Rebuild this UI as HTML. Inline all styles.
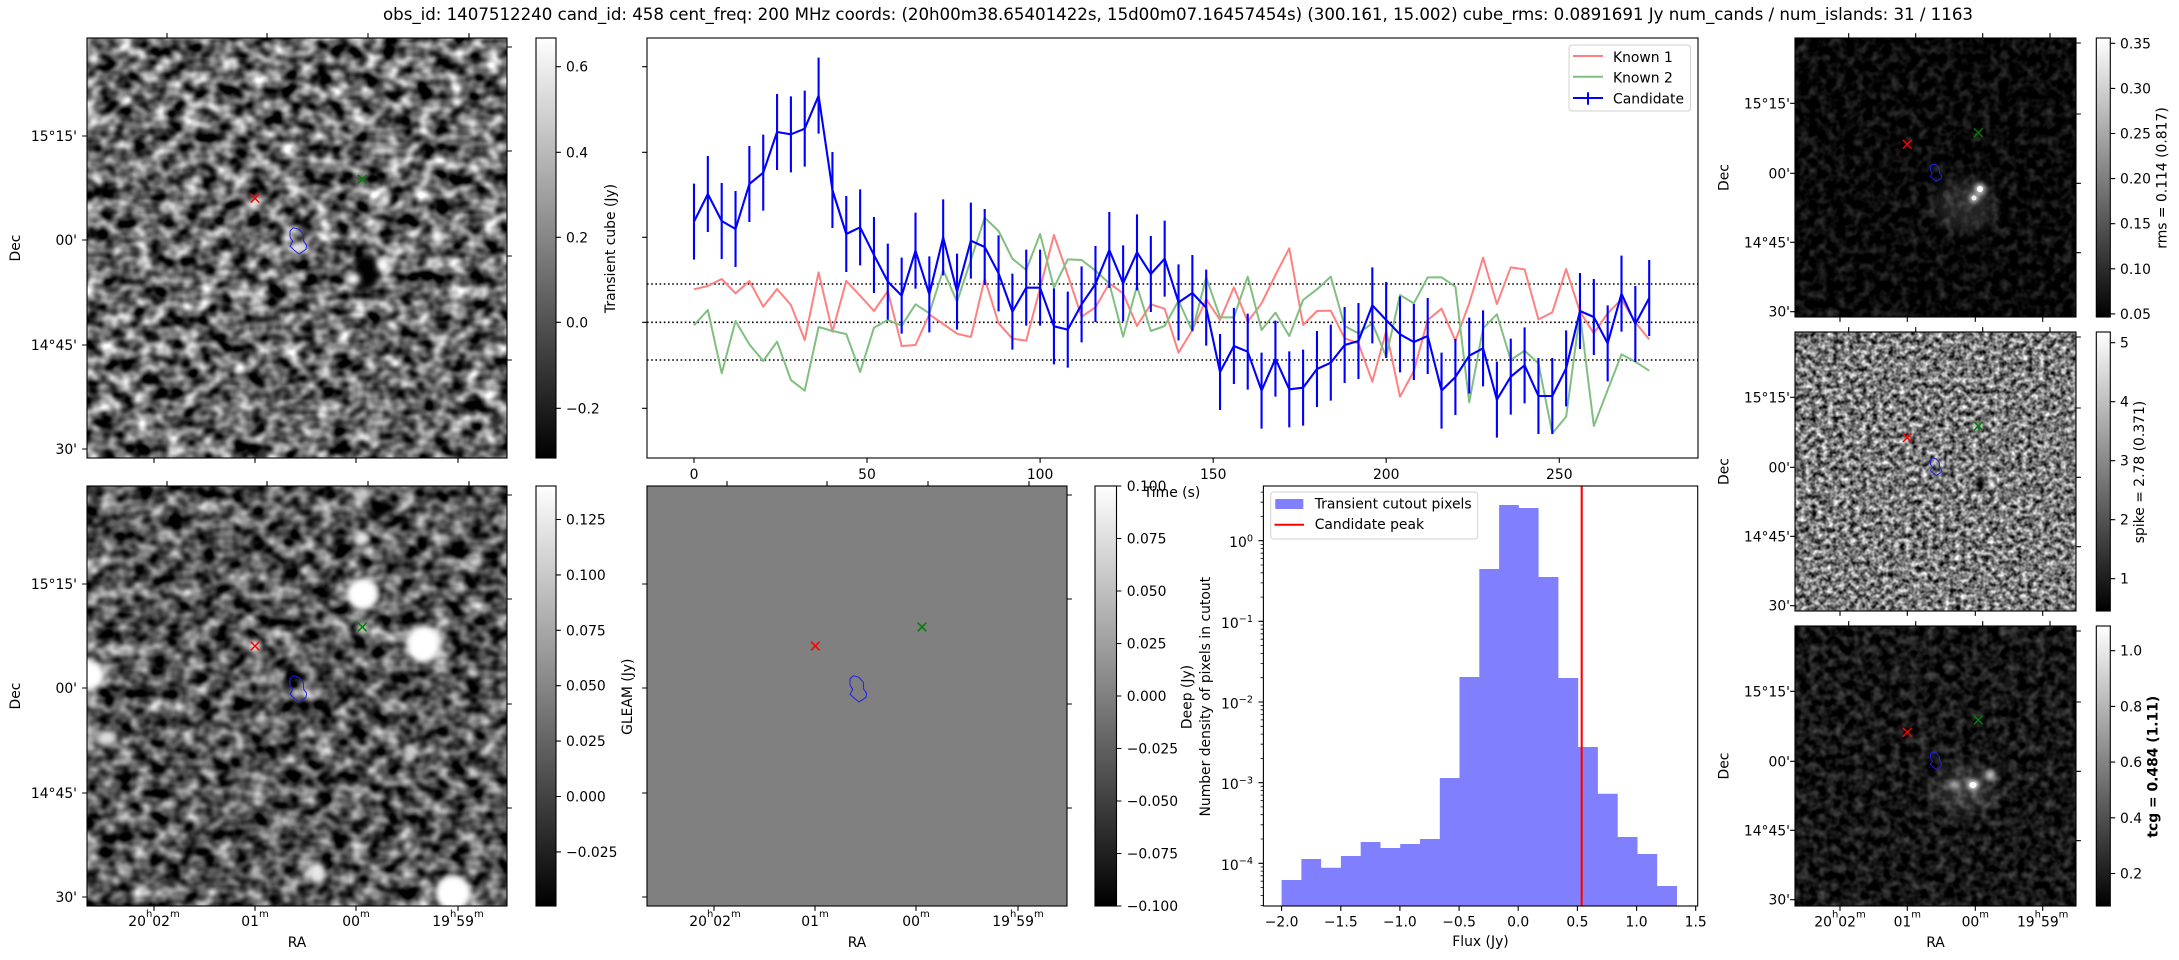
<!DOCTYPE html>
<html><head><meta charset="utf-8"><style>
html,body{margin:0;padding:0;background:#fff}
svg{display:block}
text{font-family:"DejaVu Sans","Liberation Sans",sans-serif;font-size:13.9px;fill:#000}
</style></head><body>
<svg width="2179" height="960" viewBox="0 0 2179 960" xmlns="http://www.w3.org/2000/svg">
<defs>
<linearGradient id="cb" x1="0" y1="1" x2="0" y2="0"><stop offset="0" stop-color="#000"/><stop offset="1" stop-color="#fff"/></linearGradient>
<filter id="fTL" x="87" y="38" width="420" height="420" filterUnits="userSpaceOnUse" color-interpolation-filters="sRGB">
<feTurbulence type="fractalNoise" baseFrequency="0.06 0.07" numOctaves="2" seed="7"/>
<feColorMatrix type="matrix" values="1.8 0 0 0 -0.5 1.8 0 0 0 -0.5 1.8 0 0 0 -0.5 0 0 0 0 1"/>
</filter>
<filter id="fBL" x="87" y="486" width="420" height="420" filterUnits="userSpaceOnUse" color-interpolation-filters="sRGB">
<feTurbulence type="fractalNoise" baseFrequency="0.06 0.07" numOctaves="2" seed="21"/>
<feColorMatrix type="matrix" values="1.5 0 0 0 -0.42 1.5 0 0 0 -0.42 1.5 0 0 0 -0.42 0 0 0 0 1"/>
</filter>
<filter id="fR1" x="1795" y="38" width="281" height="279" filterUnits="userSpaceOnUse" color-interpolation-filters="sRGB">
<feTurbulence type="fractalNoise" baseFrequency="0.11" numOctaves="2" seed="4"/>
<feColorMatrix type="matrix" values="0.45 0 0 0 -0.19 0.45 0 0 0 -0.19 0.45 0 0 0 -0.19 0 0 0 0 1"/>
</filter>
<filter id="fR2" x="1795" y="332" width="281" height="279" filterUnits="userSpaceOnUse" color-interpolation-filters="sRGB">
<feTurbulence type="fractalNoise" baseFrequency="0.18" numOctaves="2" seed="11"/>
<feColorMatrix type="matrix" values="1.5 0 0 0 -0.27 1.5 0 0 0 -0.27 1.5 0 0 0 -0.27 0 0 0 0 1"/>
</filter>
<filter id="fR3" x="1795" y="626" width="281" height="280" filterUnits="userSpaceOnUse" color-interpolation-filters="sRGB">
<feTurbulence type="fractalNoise" baseFrequency="0.11" numOctaves="2" seed="15"/>
<feColorMatrix type="matrix" values="0.55 0 0 0 -0.19 0.55 0 0 0 -0.19 0.55 0 0 0 -0.19 0 0 0 0 1"/>
</filter>
<filter id="bl" x="-100%" y="-100%" width="300%" height="300%"><feGaussianBlur stdDeviation="3"/></filter>
<filter id="bl6" x="-100%" y="-100%" width="300%" height="300%"><feGaussianBlur stdDeviation="7"/></filter>
<clipPath id="cTL"><rect x="87" y="38" width="420" height="420"/></clipPath>
<clipPath id="cBL"><rect x="87" y="486" width="420" height="420"/></clipPath>
<clipPath id="cR1"><rect x="1795" y="38" width="281" height="279"/></clipPath>
<clipPath id="cR2"><rect x="1795" y="332" width="281" height="279"/></clipPath>
<clipPath id="cR3"><rect x="1795" y="626" width="281" height="280"/></clipPath>
<path id="cont" d="M293.3 227.7L299 229.3L303.3 234.3L303.7 241.3L306.7 245.3L306 249.3L299 254L294.3 250.3L290 246.3L292.7 241.3L290 237L290 231Z" fill="none" stroke="#2020e0" stroke-width="1"/>
<path id="contR" d="M293.3 227.7L299 229.3L303.3 234.3L303.7 241.3L306.7 245.3L306 249.3L299 254L294.3 250.3L290 246.3L292.7 241.3L290 237L290 231Z" fill="none" stroke="#2020e0" stroke-width="1.5"/>
</defs>

<rect x="0" y="0" width="2179" height="960" fill="#fff"/>

<!-- Title -->
<text x="1178" y="20" text-anchor="middle" style="font-size:16.67px" textLength="1590" lengthAdjust="spacing">obs_id: 1407512240 cand_id: 458 cent_freq: 200 MHz coords: (20h00m38.65401422s, 15d00m07.16457454s) (300.161, 15.002) cube_rms: 0.0891691 Jy num_cands / num_islands: 31 / 1163</text>

<!-- ============ TOP-LEFT IMAGE ============ -->
<rect x="87" y="38" width="420" height="420" filter="url(#fTL)"/>
<g clip-path="url(#cTL)">
<ellipse cx="366" cy="272" rx="13" ry="17" fill="#000" filter="url(#bl)"/>
<ellipse cx="353" cy="279" rx="7" ry="6" fill="#fff" filter="url(#bl)"/>
<ellipse cx="383" cy="265" rx="6" ry="8" fill="#fff" filter="url(#bl)"/>
<ellipse cx="437" cy="236" rx="6" ry="7" fill="#fff" filter="url(#bl)"/>
<ellipse cx="300" cy="248" rx="6" ry="5" fill="#ddd" filter="url(#bl)"/>
<ellipse cx="385" cy="200" rx="5" ry="7" fill="#eee" filter="url(#bl)"/>
</g>
<use href="#cont"/>
<g stroke-width="1.5" fill="none">
<path d="M250.7 194L259.3 202.6M259.3 194L250.7 202.6" stroke="#f00"/>
<path d="M358 175L366.6 183.6M366.6 175L358 183.6" stroke="#008000"/>
</g>
<rect x="87" y="38" width="420" height="420" fill="none" stroke="#000" stroke-width="1.1"/>
<g id="tkL" stroke="#000" stroke-width="1.1">
<path d="M167 38v-4.9M267 38v-4.9M368 38v-4.9M469 38v-4.9M154 458v4.9M255 458v4.9M356 458v4.9M458 458v4.9M87 136h-4.9M87 240h-4.9M87 345h-4.9M87 449h-4.9M507 47h4.9M507 151h4.9M507 256h4.9M507 360h4.9"/>
</g>
<g text-anchor="end">
<text x="77" y="141">15°15'</text><text x="77" y="245">00'</text><text x="77" y="350">14°45'</text><text x="77" y="454">30'</text>
</g>
<text transform="translate(20.1,248) rotate(-90)" text-anchor="middle">Dec</text>

<!-- colorbar TL -->
<rect x="536" y="38" width="20" height="420" fill="url(#cb)" stroke="#000" stroke-width="1.1"/>
<path d="M556 66.7h4.9M556 152.3h4.9M556 237.3h4.9M556 322.3h4.9M556 408.3h4.9" stroke="#000" stroke-width="1.1"/>
<g><text x="566" y="71.7">0.6</text><text x="566" y="157.3">0.4</text><text x="566" y="242.3">0.2</text><text x="566" y="327.3">0.0</text><text x="566" y="413.3">−0.2</text></g>
<text transform="translate(615,248.5) rotate(-90)" text-anchor="middle">Transient cube (Jy)</text>

<!-- ============ LIGHT CURVE ============ -->
<rect x="647" y="38" width="1051" height="420" fill="none" stroke="#000" stroke-width="1.1"/>
<path d="M647 66.7h-4.9M647 152.3h-4.9M647 237.3h-4.9M647 322.3h-4.9M647 408.3h-4.9M694 458v4.9M867 458v4.9M1040.1 458v4.9M1213.2 458v4.9M1386.2 458v4.9M1559.3 458v4.9" stroke="#000" stroke-width="1.1"/>
<g text-anchor="middle"><text x="694" y="479">0</text><text x="867" y="479">50</text><text x="1040.1" y="479">100</text><text x="1213.2" y="479">150</text><text x="1386.2" y="479">200</text><text x="1559.3" y="479">250</text></g>
<text x="1172" y="497" text-anchor="middle">Time (s)</text>
<g stroke="#000" stroke-width="1.6" stroke-dasharray="1.6 2.6">
<path d="M647 284H1698M647 322.3H1698M647 360H1698"/>
</g>
<g transform="translate(640,30) scale(0.333333)" fill="none" stroke-linejoin="round">
<polyline vector-effect="non-scaling-stroke" stroke="#ff8080" stroke-width="2" points="162,778 203.5,768 245.1,747 286.6,790 328.1,753 369.7,830 411.2,777 452.7,825 494.2,930 535.8,727 577.3,905 618.8,753 660.4,797 701.9,843 743.4,783 785,948 826.5,945 868,853 909.5,882 951.1,911 992.6,921 1034.1,746 1075.7,880 1117.2,926 1158.7,932 1200.3,774 1241.8,615 1283.3,735 1324.8,860 1366.4,832 1407.9,760 1449.4,790 1491,888 1532.5,823 1574,836 1615.6,968 1657.1,900 1698.6,808 1740.1,870 1781.7,772 1823.2,875 1864.7,820 1906.3,735 1947.8,655 1989.3,885 2030.9,843 2072.4,842 2113.9,925 2155.4,940 2197,1055 2238.5,903 2280,1100 2321.6,1023 2363.1,870 2404.6,836 2446.2,932 2487.7,820 2529.2,683 2570.7,822 2612.3,712 2653.8,718 2695.3,868 2736.9,847 2778.4,717 2819.9,845 2861.5,910 2903,850 2944.5,808 2986,877 3027.6,928"/>
<polyline vector-effect="non-scaling-stroke" stroke="#80bf80" stroke-width="2" points="162,886 203.5,840 245.1,1030 286.6,873 328.1,943 369.7,993 411.2,935 452.7,1050 494.2,1082 535.8,891 577.3,903 618.8,912 660.4,1026 701.9,893 743.4,870 785,887 826.5,823 868,850 909.5,720 951.1,815 992.6,690 1034.1,563 1075.7,603 1117.2,686 1158.7,720 1200.3,612 1241.8,773 1283.3,688 1324.8,690 1366.4,722 1407.9,760 1449.4,920 1491,768 1532.5,903 1574,888 1615.6,812 1657.1,903 1698.6,742 1740.1,862 1781.7,862 1823.2,740 1864.7,900 1906.3,848 1947.8,918 1989.3,810 2030.9,778 2072.4,740 2113.9,888 2155.4,910 2197,880 2238.5,980 2280,795 2321.6,820 2363.1,742 2404.6,742 2446.2,770 2487.7,1117 2529.2,895 2570.7,853 2612.3,990 2653.8,962 2695.3,1000 2736.9,1210 2778.4,1160 2819.9,850 2861.5,1188 2903,1080 2944.5,973 2986,995 3027.6,1022"/>
<polyline vector-effect="non-scaling-stroke" stroke="#0000ff" stroke-width="2.1" points="162,575 203.5,492 245.1,573 286.6,597 328.1,462 369.7,428 411.2,306 452.7,313 494.2,296 535.8,197 577.3,480 618.8,612 660.4,592 701.9,675 743.4,755 785,797 826.5,662 868,793 909.5,622 951.1,785 992.6,632 1034.1,651 1075.7,730 1117.2,845 1158.7,773 1200.3,773 1241.8,889 1283.3,899 1324.8,823 1366.4,762 1407.9,660 1449.4,760 1491,667 1532.5,732 1574,686 1615.6,817 1657.1,789 1698.6,833 1740.1,1026 1781.7,948 1823.2,965 1864.7,1082 1906.3,986 1947.8,1078 1989.3,1073 2030.9,1017 2072.4,998 2113.9,945 2155.4,933 2197,826 2238.5,870 2280,913 2321.6,936 2363.1,918 2404.6,1082 2446.2,1041 2487.7,977 2529.2,955 2570.7,1109 2612.3,1040 2653.8,1006 2695.3,1098 2736.9,1098 2778.4,1015 2819.9,843 2861.5,861 2903,940 2944.5,791 2986,882 3027.6,804"/>
<path vector-effect="non-scaling-stroke" stroke="#0000ff" stroke-width="2.1" d="M162 461V689M203.5 378V606M245.1 459V687M286.6 483V711M328.1 348V576M369.7 314V542M411.2 192V420M452.7 199V427M494.2 182V410M535.8 83V311M577.3 366V594M618.8 498V726M660.4 478V706M701.9 561V789M743.4 641V869M785 683V911M826.5 548V776M868 679V907M909.5 508V736M951.1 671V899M992.6 518V746M1034.1 537V765M1075.7 616V844M1117.2 731V959M1158.7 659V887M1200.3 659V887M1241.8 775V1003M1283.3 785V1013M1324.8 709V937M1366.4 648V876M1407.9 546V774M1449.4 646V874M1491 553V781M1532.5 618V846M1574 572V800M1615.6 703V931M1657.1 675V903M1698.6 719V947M1740.1 912V1140M1781.7 834V1062M1823.2 851V1079M1864.7 968V1196M1906.3 872V1100M1947.8 964V1192M1989.3 959V1187M2030.9 903V1131M2072.4 884V1112M2113.9 831V1059M2155.4 819V1047M2197 712V940M2238.5 756V984M2280 799V1027M2321.6 822V1050M2363.1 804V1032M2404.6 968V1196M2446.2 927V1155M2487.7 863V1091M2529.2 841V1069M2570.7 995V1223M2612.3 926V1154M2653.8 892V1120M2695.3 984V1212M2736.9 984V1212M2778.4 901V1129M2819.9 729V957M2861.5 747V975M2903 826V1054M2944.5 677V905M2986 768V996M3027.6 690V918"/>
</g>
<!-- legend LC -->
<rect x="1569" y="45" width="121.5" height="66" rx="3" fill="#fff" stroke="#d0d0d0" stroke-width="1"/>
<path d="M1573 56H1603" stroke="#ff8080" stroke-width="2"/>
<path d="M1573 76.7H1603" stroke="#80bf80" stroke-width="2"/>
<path d="M1573 98H1603M1588 92.3V104.7" stroke="#0000ff" stroke-width="2"/>
<text x="1613" y="62">Known 1</text><text x="1613" y="82.7">Known 2</text><text x="1613" y="103.3">Candidate</text>

<!-- ============ BOTTOM-LEFT IMAGE ============ -->
<rect x="87" y="486" width="420" height="420" filter="url(#fBL)"/>
<g clip-path="url(#cBL)">
<ellipse cx="362.5" cy="594" rx="16" ry="16" fill="#fff" filter="url(#bl)"/>
<ellipse cx="423.5" cy="644" rx="17" ry="19" fill="#fff" filter="url(#bl)"/>
<ellipse cx="90" cy="675" rx="14" ry="15" fill="#fff" filter="url(#bl)"/>
<ellipse cx="453" cy="893" rx="18" ry="18" fill="#fff" filter="url(#bl)"/>
<ellipse cx="317" cy="872" rx="8" ry="10" fill="#e8e8e8" filter="url(#bl)"/>
<ellipse cx="107" cy="738" rx="10" ry="8" fill="#ddd" filter="url(#bl)"/>
<ellipse cx="362" cy="538" rx="7" ry="6" fill="#eee" filter="url(#bl)"/>
<ellipse cx="363" cy="494" rx="6" ry="7" fill="#ccc" filter="url(#bl)"/>
<ellipse cx="255" cy="646" rx="7" ry="7" fill="#ddd" filter="url(#bl)"/>
<ellipse cx="362" cy="628" rx="6" ry="6" fill="#ccc" filter="url(#bl)"/>
<ellipse cx="410" cy="753" rx="5" ry="9" fill="#ccc" filter="url(#bl)"/>
<ellipse cx="380" cy="510" rx="8" ry="6" fill="#000" filter="url(#bl)"/>
</g>
<use href="#cont" transform="translate(0,448)"/>
<g stroke-width="1.5" fill="none">
<path d="M250.7 641.7L259.3 650.3M259.3 641.7L250.7 650.3" stroke="#f00"/>
<path d="M358 622.7L366.6 631.3M366.6 622.7L358 631.3" stroke="#008000"/>
</g>
<rect x="87" y="486" width="420" height="420" fill="none" stroke="#000" stroke-width="1.1"/>
<use href="#tkL" transform="translate(0,448)"/>
<g text-anchor="end">
<text x="77" y="589">15°15'</text><text x="77" y="693">00'</text><text x="77" y="798">14°45'</text><text x="77" y="902">30'</text>
</g>
<text transform="translate(20.1,696) rotate(-90)" text-anchor="middle">Dec</text>
<g text-anchor="middle">
<text x="154" y="926">20<tspan dy="-9" style="font-size:10px">h</tspan><tspan dy="9">02</tspan><tspan dy="-9" style="font-size:10px">m</tspan></text>
<text x="255" y="926">01<tspan dy="-9" style="font-size:10px">m</tspan></text>
<text x="356" y="926">00<tspan dy="-9" style="font-size:10px">m</tspan></text>
<text x="458" y="926">19<tspan dy="-9" style="font-size:10px">h</tspan><tspan dy="9">59</tspan><tspan dy="-9" style="font-size:10px">m</tspan></text>
<text x="297" y="947">RA</text>
</g>
<!-- colorbar BL -->
<rect x="536" y="486" width="20" height="420" fill="url(#cb)" stroke="#000" stroke-width="1.1"/>
<path d="M556 519.5h4.9M556 574.9h4.9M556 630.3h4.9M556 685.7h4.9M556 741.1h4.9M556 796.5h4.9M556 851.9h4.9" stroke="#000" stroke-width="1.1"/>
<g><text x="566" y="524.5">0.125</text><text x="566" y="579.9">0.100</text><text x="566" y="635.3">0.075</text><text x="566" y="690.7">0.050</text><text x="566" y="746.1">0.025</text><text x="566" y="801.5">0.000</text><text x="566" y="856.9">−0.025</text></g>
<text transform="translate(631.8,696.7) rotate(-90)" text-anchor="middle">GLEAM (Jy)</text>

<!-- ============ GLEAM ============ -->
<rect x="647" y="486" width="420" height="420" fill="#808080"/>
<use href="#cont" transform="translate(560,448)"/>
<g stroke-width="1.5" fill="none">
<path d="M811 641.7L819.6 650.3M819.6 641.7L811 650.3" stroke="#f00"/>
<path d="M917.7 622.7L926.3 631.3M926.3 622.7L917.7 631.3" stroke="#008000"/>
</g>
<rect x="647" y="486" width="420" height="420" fill="none" stroke="#000" stroke-width="1.1"/>
<use href="#tkL" transform="translate(560,448)"/>
<g text-anchor="middle">
<text x="715" y="926">20<tspan dy="-9" style="font-size:10px">h</tspan><tspan dy="9">02</tspan><tspan dy="-9" style="font-size:10px">m</tspan></text>
<text x="815" y="926">01<tspan dy="-9" style="font-size:10px">m</tspan></text>
<text x="916" y="926">00<tspan dy="-9" style="font-size:10px">m</tspan></text>
<text x="1018" y="926">19<tspan dy="-9" style="font-size:10px">h</tspan><tspan dy="9">59</tspan><tspan dy="-9" style="font-size:10px">m</tspan></text>
<text x="857" y="947">RA</text>
</g>
<!-- colorbar GLEAM -->
<rect x="1095" y="486" width="21.5" height="420" fill="url(#cb)" stroke="#000" stroke-width="1.1"/>
<path d="M1116.5 486h4.9M1116.5 538.5h4.9M1116.5 591h4.9M1116.5 643.5h4.9M1116.5 696h4.9M1116.5 748.5h4.9M1116.5 801h4.9M1116.5 853.5h4.9M1116.5 906h4.9" stroke="#000" stroke-width="1.1"/>
<g><text x="1126.7" y="491">0.100</text><text x="1126.7" y="543.5">0.075</text><text x="1126.7" y="596">0.050</text><text x="1126.7" y="648.5">0.025</text><text x="1126.7" y="701">0.000</text><text x="1126.7" y="753.5">−0.025</text><text x="1126.7" y="806">−0.050</text><text x="1126.7" y="858.5">−0.075</text><text x="1126.7" y="911">−0.100</text></g>
<text transform="translate(1191.5,697) rotate(-90)" text-anchor="middle">Deep (Jy)</text>

<!-- ============ HISTOGRAM ============ -->
<path d="M1281.6 906V880H1301.4V859H1321.1V867.7H1340.9V856H1360.7V842H1380.5V848H1400.2V844H1420V839H1439.8V778H1459.5V677H1479.3V569H1499.1V505H1518.8V508H1538.6V577H1558.4V678H1578.2V747H1597.9V793.7H1617.7V837H1637.5V854H1657.2V886H1677V906Z" fill="#8080ff"/>
<path d="M1581.7 486V906" stroke="#f00" stroke-width="2.1"/>
<rect x="1263.4" y="486" width="434.3" height="420" fill="none" stroke="#000" stroke-width="1.1"/>
<path stroke="#000" stroke-width="1.1" d="M1281.6 906v4.9M1340.8 906v4.9M1399.9 906v4.9M1459.1 906v4.9M1518.2 906v4.9M1577.4 906v4.9M1636.6 906v4.9M1695.7 906v4.9M1263.4 540.7h-4.9M1263.4 621.35h-4.9M1263.4 702h-4.9M1263.4 782.65h-4.9M1263.4 863.3h-4.9"/>
<path stroke="#000" stroke-width="0.8" d="M1263.4 516.4h-2.8M1263.4 502.2h-2.8M1263.4 492.1h-2.8M1263.4 597.1h-2.8M1263.4 582.9h-2.8M1263.4 572.8h-2.8M1263.4 565h-2.8M1263.4 558.6h-2.8M1263.4 553.2h-2.8M1263.4 548.5h-2.8M1263.4 544.4h-2.8M1263.4 677.7h-2.8M1263.4 663.5h-2.8M1263.4 653.4h-2.8M1263.4 645.6h-2.8M1263.4 639.2h-2.8M1263.4 633.8h-2.8M1263.4 629.2h-2.8M1263.4 625h-2.8M1263.4 758.4h-2.8M1263.4 744.2h-2.8M1263.4 734.1h-2.8M1263.4 726.3h-2.8M1263.4 719.9h-2.8M1263.4 714.5h-2.8M1263.4 709.8h-2.8M1263.4 705.7h-2.8M1263.4 839h-2.8M1263.4 824.8h-2.8M1263.4 814.7h-2.8M1263.4 806.9h-2.8M1263.4 800.5h-2.8M1263.4 795.1h-2.8M1263.4 790.4h-2.8M1263.4 786.3h-2.8M1263.4 905.5h-2.8M1263.4 895.4h-2.8M1263.4 887.6h-2.8M1263.4 881.2h-2.8M1263.4 875.8h-2.8M1263.4 871.1h-2.8M1263.4 867h-2.8"/>
<g text-anchor="end">
<text x="1253" y="547.2">10<tspan dy="-5.8" style="font-size:9.7px">0</tspan></text>
<text x="1253" y="627.9">10<tspan dy="-5.8" style="font-size:9.7px">−1</tspan></text>
<text x="1253" y="708.5">10<tspan dy="-5.8" style="font-size:9.7px">−2</tspan></text>
<text x="1253" y="789.2">10<tspan dy="-5.8" style="font-size:9.7px">−3</tspan></text>
<text x="1253" y="869.8">10<tspan dy="-5.8" style="font-size:9.7px">−4</tspan></text>
</g>
<g text-anchor="middle">
<text x="1281.6" y="926.7">−2.0</text><text x="1340.8" y="926.7">−1.5</text><text x="1399.9" y="926.7">−1.0</text><text x="1459.1" y="926.7">−0.5</text><text x="1518.2" y="926.7">0.0</text><text x="1577.4" y="926.7">0.5</text><text x="1636.6" y="926.7">1.0</text><text x="1695.7" y="926.7">1.5</text>
<text x="1480.5" y="946">Flux (Jy)</text>
</g>
<text transform="translate(1210,696.7) rotate(-90)" text-anchor="middle">Number density of pixels in cutout</text>
<rect x="1270.7" y="492" width="207" height="47" rx="3" fill="#fff" fill-opacity="0.8" stroke="#d0d0d0" stroke-width="1"/>
<rect x="1275.3" y="499" width="28" height="10" fill="#8080ff"/>
<path d="M1274.5 524.7H1304" stroke="#f00" stroke-width="2"/>
<text x="1314.7" y="508.6">Transient cutout pixels</text>
<text x="1314.7" y="529.2">Candidate peak</text>

<!-- ============ RIGHT COLUMN ============ -->
<!-- R1 -->
<rect x="1795" y="38" width="281" height="279" filter="url(#fR1)"/>
<g clip-path="url(#cR1)">
<ellipse cx="1965" cy="205" rx="30" ry="26" fill="#fff" opacity="0.14" filter="url(#bl6)"/>
<ellipse cx="1980" cy="189" rx="5" ry="5" fill="#fff" filter="url(#bl)"/>
<ellipse cx="1974" cy="198" rx="5" ry="4" fill="#eee" filter="url(#bl)"/>
<ellipse cx="1980" cy="189" rx="3" ry="3" fill="#fff"/>
<ellipse cx="1974" cy="198" rx="2.5" ry="2.5" fill="#eee"/>
</g>
<use href="#contR" transform="translate(1795,38) scale(0.667,0.6643) translate(-87,-38)"/>
<g stroke-width="1.5" fill="none">
<path d="M1903 140L1911.6 148.6M1911.6 140L1903 148.6" stroke="#f00"/>
<path d="M1974 128.4L1982.6 137M1982.6 128.4L1974 137" stroke="#008000"/>
</g>
<rect x="1795" y="38" width="281" height="279" fill="none" stroke="#000" stroke-width="1.1"/>
<g id="tkR" stroke="#000" stroke-width="1.1">
<path d="M1848.7 38v-4.9M1915.7 38v-4.9M1982.7 38v-4.9M2050 38v-4.9M1840 317v4.9M1907.3 317v4.9M1975.3 317v4.9M2042.7 317v4.9M1795 103.3h-4.9M1795 173.3h-4.9M1795 242.3h-4.9M1795 311.7h-4.9M2076 43h4.9M2076 114h4.9M2076 183.3h4.9M2076 252.7h4.9"/>
</g>
<g id="lbR" text-anchor="end">
<text x="1790" y="108.3">15°15'</text><text x="1790" y="178.3">00'</text><text x="1790" y="247.3">14°45'</text><text x="1790" y="316.7">30'</text>
</g>
<text transform="translate(1728.5,177.5) rotate(-90)" text-anchor="middle">Dec</text>
<rect x="2096.3" y="38" width="14" height="279" fill="url(#cb)" stroke="#000" stroke-width="1.1"/>
<path d="M2110.3 43.3h4.9M2110.3 88.4h4.9M2110.3 133.5h4.9M2110.3 178.6h4.9M2110.3 223.7h4.9M2110.3 268.8h4.9M2110.3 313.9h4.9" stroke="#000" stroke-width="1.1"/>
<g><text x="2120" y="48.3">0.35</text><text x="2120" y="93.4">0.30</text><text x="2120" y="138.5">0.25</text><text x="2120" y="183.6">0.20</text><text x="2120" y="228.7">0.15</text><text x="2120" y="273.8">0.10</text><text x="2120" y="318.9">0.05</text></g>
<text transform="translate(2166.5,178) rotate(-90)" text-anchor="middle">rms = 0.114 (0.817)</text>

<!-- R2 -->
<rect x="1795" y="332" width="281" height="279" filter="url(#fR2)"/>
<g clip-path="url(#cR2)">
<ellipse cx="1980" cy="483" rx="5" ry="6" fill="#000" filter="url(#bl)"/>
<ellipse cx="1991" cy="482" rx="3" ry="4" fill="#fff" filter="url(#bl)"/>
</g>
<use href="#contR" transform="translate(1795,332) scale(0.667,0.6643) translate(-87,-38)"/>
<g stroke-width="1.5" fill="none">
<path d="M1903 433.4L1911.6 442M1911.6 433.4L1903 442" stroke="#f00"/>
<path d="M1974 421.7L1982.6 430.3M1982.6 421.7L1974 430.3" stroke="#008000"/>
</g>
<rect x="1795" y="332" width="281" height="279" fill="none" stroke="#000" stroke-width="1.1"/>
<use href="#tkR" transform="translate(0,294)"/>
<use href="#lbR" transform="translate(0,294)"/>
<text transform="translate(1728.5,471.5) rotate(-90)" text-anchor="middle">Dec</text>
<rect x="2096.3" y="332" width="14" height="279" fill="url(#cb)" stroke="#000" stroke-width="1.1"/>
<path d="M2110.3 342.7h4.9M2110.3 401.7h4.9M2110.3 460.7h4.9M2110.3 519.7h4.9M2110.3 578.7h4.9" stroke="#000" stroke-width="1.1"/>
<g><text x="2120" y="347.7">5</text><text x="2120" y="406.7">4</text><text x="2120" y="465.7">3</text><text x="2120" y="524.7">2</text><text x="2120" y="583.7">1</text></g>
<text transform="translate(2144,472) rotate(-90)" text-anchor="middle">spike = 2.78 (0.371)</text>

<!-- R3 -->
<rect x="1795" y="626" width="281" height="280" filter="url(#fR3)"/>
<g clip-path="url(#cR3)">
<ellipse cx="1965" cy="790" rx="30" ry="24" fill="#fff" opacity="0.16" filter="url(#bl6)"/>
<ellipse cx="1973" cy="785" rx="6" ry="5" fill="#fff" filter="url(#bl)"/>
<ellipse cx="1990" cy="775" rx="5" ry="5" fill="#ddd" filter="url(#bl)"/>
<ellipse cx="1955" cy="785" rx="6" ry="4" fill="#bbb" filter="url(#bl)"/>
<ellipse cx="1973" cy="785" rx="3.5" ry="3" fill="#fff"/>
</g>
<use href="#contR" transform="translate(1795,626) scale(0.667,0.6643) translate(-87,-38)"/>
<g stroke-width="1.5" fill="none">
<path d="M1903 728L1911.6 736.6M1911.6 728L1903 736.6" stroke="#f00"/>
<path d="M1974 715.7L1982.6 724.3M1982.6 715.7L1974 724.3" stroke="#008000"/>
</g>
<rect x="1795" y="626" width="281" height="280" fill="none" stroke="#000" stroke-width="1.1"/>
<g stroke="#000" stroke-width="1.1">
<path d="M1848.7 626v-4.9M1915.7 626v-4.9M1982.7 626v-4.9M2050 626v-4.9M1840 906v4.9M1907.3 906v4.9M1975.3 906v4.9M2042.7 906v4.9M1795 691.3h-4.9M1795 761.3h-4.9M1795 830.3h-4.9M1795 899.7h-4.9M2076 631h4.9M2076 702h4.9M2076 771.3h4.9M2076 840.7h4.9"/>
</g>
<g text-anchor="end">
<text x="1790" y="696.3">15°15'</text><text x="1790" y="766.3">00'</text><text x="1790" y="835.3">14°45'</text><text x="1790" y="904.7">30'</text>
</g>
<text transform="translate(1728.5,766) rotate(-90)" text-anchor="middle">Dec</text>
<g text-anchor="middle">
<text x="1840" y="926.5">20<tspan dy="-9" style="font-size:10px">h</tspan><tspan dy="9">02</tspan><tspan dy="-9" style="font-size:10px">m</tspan></text>
<text x="1907.3" y="926.5">01<tspan dy="-9" style="font-size:10px">m</tspan></text>
<text x="1975.3" y="926.5">00<tspan dy="-9" style="font-size:10px">m</tspan></text>
<text x="2042.7" y="926.5">19<tspan dy="-9" style="font-size:10px">h</tspan><tspan dy="9">59</tspan><tspan dy="-9" style="font-size:10px">m</tspan></text>
<text x="1935.5" y="947">RA</text>
</g>
<rect x="2096.3" y="626" width="14" height="280" fill="url(#cb)" stroke="#000" stroke-width="1.1"/>
<path d="M2110.3 650.7h4.9M2110.3 706.4h4.9M2110.3 762.1h4.9M2110.3 817.8h4.9M2110.3 873.5h4.9" stroke="#000" stroke-width="1.1"/>
<g><text x="2120" y="655.7">1.0</text><text x="2120" y="711.4">0.8</text><text x="2120" y="767.1">0.6</text><text x="2120" y="822.8">0.4</text><text x="2120" y="878.5">0.2</text></g>
<text transform="translate(2157.3,766.7) rotate(-90)" text-anchor="middle" font-weight="bold">tcg = 0.484 (1.11)</text>
</svg>
</body></html>
